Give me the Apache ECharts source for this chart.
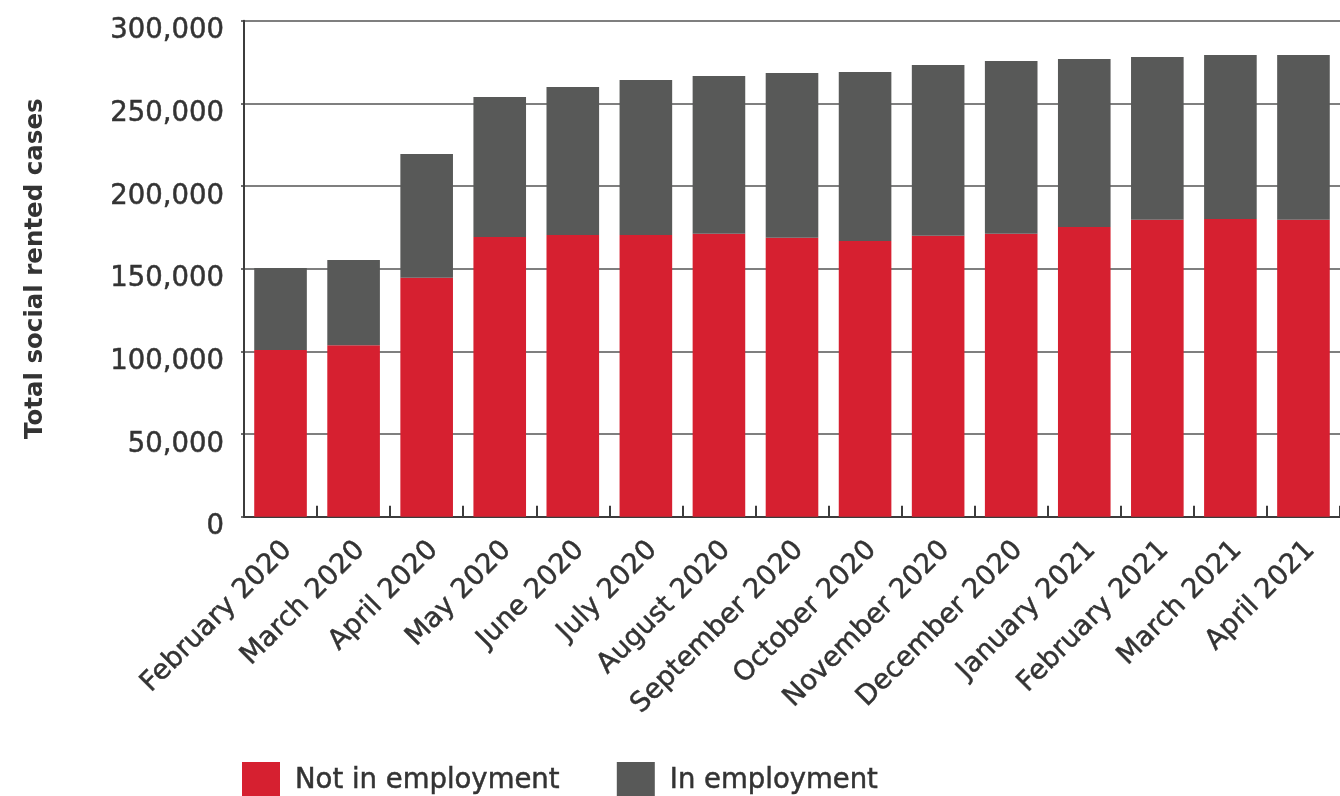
<!DOCTYPE html>
<html>
<head>
<meta charset="utf-8">
<script src="https://cdn.jsdelivr.net/npm/echarts@6/dist/echarts.min.js"></script>
<style>
  html, body { margin: 0; padding: 0; background: #ffffff; }
  #chart { width: 1340px; height: 796px; }
</style>
</head>
<body>
<div id="chart"></div>
<script>
// Monthly social rented cases, split by employment status
const months = [
  'February 2020', 'March 2020', 'April 2020', 'May 2020', 'June 2020',
  'July 2020', 'August 2020', 'September 2020', 'October 2020', 'November 2020',
  'December 2020', 'January 2021', 'February 2021', 'March 2021', 'April 2021'
];
const notInEmployment = [
  100800, 103700, 144600, 169200, 170400,
  170400, 171200, 168700, 166700, 170000,
  171200, 175200, 179600, 180000, 179600
];
const inEmployment = [
  49600, 51600, 74800, 84600, 89500,
  93700, 95300, 99700, 102300, 103200,
  104400, 101600, 98400, 99200, 99600
];
const yTicks = [0, 50000, 100000, 150000, 200000, 250000, 300000];

const RED = '#d62030';
const GREY = '#585958';
const TEXT = '#333333';
const FONT = '"DejaVu Sans", sans-serif';

// slight outline in the text colour gives the labels a medium weight
const medium = { textBorderColor: TEXT, textBorderWidth: 0.5 };

const chart = echarts.init(document.getElementById('chart'), null, { renderer: 'canvas' });

chart.setOption({
  animation: false,
  backgroundColor: '#ffffff',
  textStyle: { fontFamily: FONT },
  grid: { left: 244, right: -4, top: 20.7, bottom: 279.3, containLabel: false },
  legend: {
    left: 242,
    top: 762,
    padding: 0,
    itemWidth: 38,
    itemHeight: 38,
    itemGap: 57,
    icon: 'rect',
    selectedMode: false,
    textStyle: Object.assign({
      fontFamily: FONT,
      fontSize: 27.5,
      color: TEXT,
      padding: [0, 0, 0, 10]
    }, medium),
    data: ['Not in employment', 'In employment']
  },
  xAxis: {
    type: 'category',
    data: months,
    boundaryGap: true,
    axisLine: { show: true, lineStyle: { color: '#3c3c3c', width: 2 } },
    axisTick: {
      show: true,
      inside: true,
      length: 11,
      alignWithLabel: false,
      lineStyle: { color: '#3c3c3c', width: 2 }
    },
    axisLabel: Object.assign({
      rotate: 45,
      interval: 0,
      margin: 22,
      verticalAlign: 'top',
      lineHeight: 20,
      fontFamily: FONT,
      fontSize: 27.5,
      color: TEXT
    }, medium)
  },
  yAxis: {
    type: 'value',
    min: yTicks[0],
    max: yTicks[yTicks.length - 1],
    interval: yTicks[1] - yTicks[0],
    name: 'Total social rented cases',
    nameLocation: 'middle',
    nameRotate: 90,
    nameGap: 196,
    nameTextStyle: {
      fontFamily: FONT,
      fontWeight: 'bold',
      fontSize: 24.5,
      color: TEXT
    },
    axisLine: { show: true, lineStyle: { color: '#3c3c3c', width: 2 } },
    axisTick: { show: true, length: 3, lineStyle: { color: '#3c3c3c', width: 1.5 } },
    axisLabel: Object.assign({
      margin: 20,
      verticalAlign: 'top',
      lineHeight: 21,
      fontFamily: FONT,
      fontSize: 27.5,
      color: TEXT,
      formatter: v => v.toLocaleString('en-GB')
    }, medium),
    splitLine: { show: true, lineStyle: { color: '#555555', width: 1.6 } }
  },
  series: [
    {
      name: 'Not in employment',
      type: 'bar',
      stack: 'cases',
      barCategoryGap: '28%',
      itemStyle: { color: RED },
      data: notInEmployment
    },
    {
      name: 'In employment',
      type: 'bar',
      stack: 'cases',
      barCategoryGap: '28%',
      itemStyle: { color: GREY },
      data: inEmployment
    }
  ]
});
</script>
</body>
</html>
